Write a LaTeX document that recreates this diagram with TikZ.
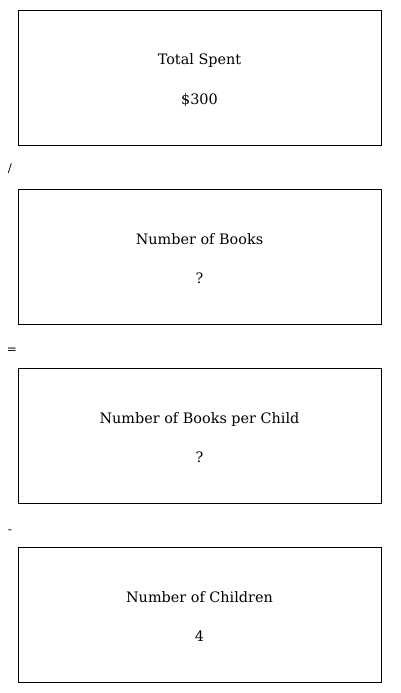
\documentclass[tikz,border=0pt]{standalone}
\usepackage{fontspec}
\setmainfont{DejaVu Serif}
\begin{document}
\begin{tikzpicture}[x=1pt,y=-1pt,
  valbox/.style={draw=black, line width=0.9pt, minimum width=363pt, minimum height=135pt, inner sep=0pt},
  lbl/.style={font=\fontsize{14.4}{17}\selectfont, inner sep=0pt, anchor=base},
  op/.style={font=\fontsize{12}{14}\selectfont, inner sep=0pt}]
\useasboundingbox (0,0) rectangle (400,693);
\node[valbox] (b1) at (199.5,77.5) {};
\node[valbox] (b2) at (199.5,256.5) {};
\node[valbox] (b3) at (199.5,435.5) {};
\node[valbox] (b4) at (199.5,614.5) {};
\node[lbl] (t1) at (199.5,65) {Total Spent};
\node[lbl] (v1) at (199.5,104) {\$300};
\node[lbl] (t2) at (199.5,244) {Number of Books};
\node[lbl] (v2) at (199.5,283) {?};
\node[lbl] (t3) at (199.5,423) {Number of Books per Child};
\node[lbl] (v3) at (199.5,462) {?};
\node[lbl] (t4) at (199.5,602) {Number of Children};
\node[lbl] (v4) at (199.5,641) {4};
\node[op] (o1) at (10,169) {/};
\node[op] (o2) at (12,351) {=};
\node[op] (o3) at (10,532) {-};
\end{tikzpicture}
\end{document}
